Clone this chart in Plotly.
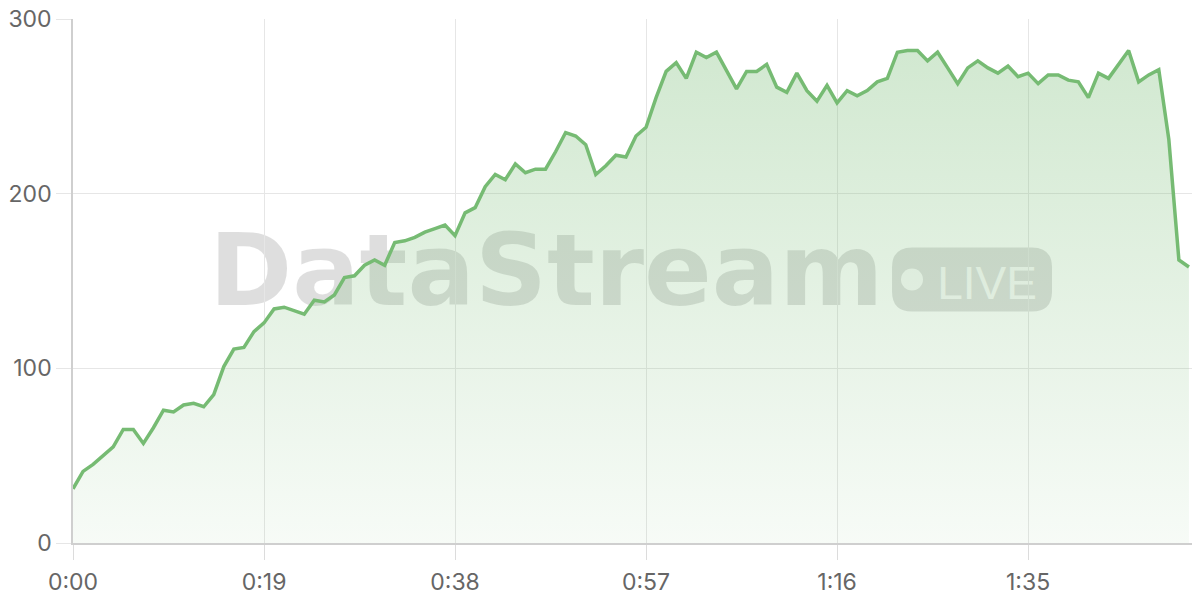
import plotly.graph_objects as go

# requests per second, one sample per second of the stream
rate = [31, 41, 45, 50, 55, 65, 65, 57, 66, 76,
        75, 79, 80, 78, 85, 101, 111, 112, 121, 126,
        134, 135, 133, 131, 139, 138, 142, 152, 153, 159,
        162, 159, 172, 173, 175, 178, 180, 182, 176, 189,
        192, 204, 211, 208, 217, 212, 214, 214, 224, 235,
        233, 228, 211, 216, 222, 221, 233, 238, 255, 270,
        275, 266, 281, 278, 281, 270, 260, 270, 270, 274,
        261, 258, 269, 259, 253, 262, 252, 259, 256, 259,
        264, 266, 281, 282, 282, 276, 281, 272, 263, 272,
        276, 272, 269, 273, 267, 269, 263, 268, 268, 265,
        264, 255, 269, 266, 274, 282, 264, 268, 271, 231,
        162, 158]
seconds = list(range(len(rate)))

tick_secs = [0, 19, 38, 57, 76, 95]
tick_text = ['0:00', '0:19', '0:38', '0:57', '1:16', '1:35']
y_ticks = [0, 100, 200, 300]

green = 'rgb(118, 187, 115)'
grid = '#e6e6e6'
axis_font = dict(family='Inter, Liberation Sans, sans-serif', size=23, color='#666666')

fig = go.Figure()
fig.add_trace(go.Scatter(
    x=seconds,
    y=rate,
    mode='lines',
    line=dict(color=green, width=3.5),
    fill='tozeroy',
    fillgradient=dict(
        type='vertical',
        colorscale=[[0, 'rgba(118, 187, 115, 0.06)'],
                    [1, 'rgba(118, 187, 115, 0.34)']],
        start=0,
        stop=290,
    ),
    hoverinfo='skip',
    showlegend=False,
))

# watermark, drawn underneath the trace
r = 20
w, h = 80, 32
pill = (f'M {-w + r},{-h} L {w - r},{-h} Q {w},{-h} {w},{-h + r} '
        f'L {w},{h - r} Q {w},{h} {w - r},{h} L {-w + r},{h} '
        f'Q {-w},{h} {-w},{h - r} L {-w},{-h + r} Q {-w},{-h} {-w + r},{-h} Z')

px, py = 0.7977, 0.503  # pill centre in paper coords
shapes = [
    dict(type='rect', xref='paper', yref='paper', x0=0.1, x1=0.74, y0=0.408, y1=0.658,
         layer='below', line=dict(width=0), fillcolor='rgba(0,0,0,0)',
         label=dict(text='<b>DataStream</b>', textposition='middle center',
                    font=dict(family='DejaVu Sans', size=100, color='rgba(0,0,0,0.13)'))),
    dict(type='path', xref='paper', yref='paper', xsizemode='pixel', ysizemode='pixel',
         xanchor=px, yanchor=py, path=pill, layer='below',
         line=dict(width=0), fillcolor='rgba(0,0,0,0.13)'),
    dict(type='circle', xref='paper', yref='paper', xsizemode='pixel', ysizemode='pixel',
         xanchor=px, yanchor=py, x0=-71, x1=-49, y0=-11, y1=11, layer='below',
         line=dict(width=0), fillcolor='rgba(255,255,255,0.85)'),
    dict(type='rect', xref='paper', yref='paper',
         x0=px - 40 / 1127, x1=px + 70 / 1127, y0=py - 30 / 524, y1=py + 30 / 524,
         layer='below', line=dict(width=0), fillcolor='rgba(0,0,0,0)',
         label=dict(text='LIVE', textposition='middle center',
                    font=dict(family='Liberation Sans', size=46, color='rgba(255,255,255,0.85)'))),
]

# the page has an 8px body margin, so the figure is sized to fit inside it
fig.update_layout(
    width=1192,
    height=592,
    margin=dict(l=65, r=0, t=11, b=57),
    paper_bgcolor='white',
    plot_bgcolor='white',
    shapes=shapes,
    xaxis=dict(
        range=[0, 112.1],
        tickvals=tick_secs,
        ticktext=tick_text,
        showgrid=True,
        gridcolor=grid,
        gridwidth=1,
        zeroline=False,
        showline=True,
        linecolor='#cfcfcf',
        linewidth=1.5,
        ticks='outside',
        ticklen=15,
        tickcolor='#dcdcdc',
        tickfont=axis_font,
        ticklabelstandoff=3,
        ticklabeloverflow='allow',
        automargin=False,
    ),
    yaxis=dict(
        range=[0, 300],
        tickvals=y_ticks,
        showgrid=True,
        gridcolor=grid,
        gridwidth=1,
        zeroline=False,
        showline=True,
        linecolor='#cfcfcf',
        linewidth=1.5,
        ticks='outside',
        ticklen=15,
        tickcolor=grid,
        tickfont=axis_font,
        ticklabelstandoff=0,
        ticklabeloverflow='allow',
        automargin=False,
    ),
)

fig.write_html('out.html')
